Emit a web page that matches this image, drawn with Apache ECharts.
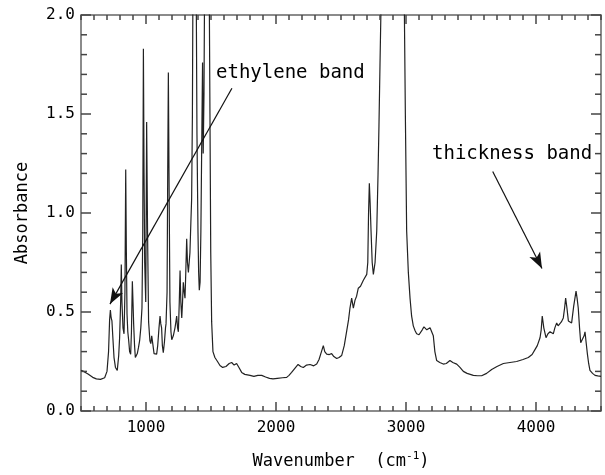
<!DOCTYPE html>
<html>
<head>
<meta charset="utf-8">
<script src="https://cdn.jsdelivr.net/npm/echarts@6/dist/echarts.min.js"></script>
<style>
html,body{margin:0;padding:0;background:#fff;}
#c{width:605px;height:475px;}
</style>
</head>
<body>
<div id="c"></div>
<script>
// Wavenumber (cm-1)
const wn = [500,520,554,590,618,650,682,700,712,720,726,732,738,746,754,765,779,790,797,805,810,815,823,831,838,844,849,854,860,867,874,882,888,895,900,905,912,918,925,933,942,951,960,969,975,980,985,990,998,1005,1012,1020,1030,1037,1044,1052,1062,1069,1076,1082,1090,1100,1108,1114,1120,1126,1133,1142,1150,1154,1162,1167,1172,1177,1184,1192,1198,1210,1223,1230,1236,1243,1249,1256,1262,1268,1275,1281,1287,1294,1300,1306,1313,1319,1326,1332,1338,1345,1351,1357,1362,1372,1385,1392,1400,1405,1410,1416,1422,1428,1435,1440,1446,1452,1470,1485,1492,1498,1505,1515,1530,1550,1569,1590,1615,1640,1659,1678,1697,1715,1736,1760,1800,1830,1860,1890,1920,1950,1977,2010,2050,2082,2100,2120,2145,2170,2190,2210,2235,2262,2290,2313,2331,2345,2364,2375,2390,2410,2428,2445,2467,2485,2505,2525,2544,2558,2569,2582,2595,2608,2620,2633,2650,2672,2685,2698,2706,2712,2718,2724,2731,2740,2749,2762,2775,2785,2792,2800,2808,2820,2850,2950,2987,2995,3005,3018,3031,3043,3056,3070,3082,3100,3108,3125,3138,3150,3160,3172,3185,3198,3210,3222,3236,3260,3287,3310,3338,3360,3390,3415,3441,3470,3518,3550,3582,3620,3659,3700,3749,3800,3851,3900,3941,3970,3992,4010,4031,4040,4048,4060,4077,4092,4108,4120,4133,4145,4159,4170,4179,4195,4210,4220,4228,4238,4249,4262,4274,4290,4308,4316,4325,4335,4344,4359,4370,4377,4385,4395,4405,4415,4435,4454,4475,4500];
// Absorbance
const absorb = [0.205,0.2,0.187,0.17,0.162,0.16,0.168,0.2,0.3,0.46,0.51,0.47,0.455,0.36,0.27,0.22,0.205,0.28,0.37,0.55,0.74,0.55,0.42,0.39,0.6,1.22,0.8,0.49,0.4,0.355,0.3,0.287,0.4,0.655,0.55,0.44,0.33,0.27,0.27,0.29,0.32,0.355,0.42,0.52,0.9,1.83,1.2,0.75,0.55,1.46,0.9,0.45,0.355,0.34,0.38,0.34,0.29,0.28,0.28,0.287,0.33,0.42,0.48,0.44,0.42,0.33,0.295,0.35,0.42,0.44,0.6,1.2,1.71,1.2,0.55,0.4,0.36,0.38,0.42,0.45,0.48,0.42,0.4,0.55,0.71,0.55,0.47,0.55,0.65,0.6,0.57,0.7,0.87,0.75,0.7,0.75,0.8,0.95,1.07,1.5,2.3,2.4,2.3,1.4,0.9,0.7,0.61,0.65,0.9,1.3,1.76,1.3,1.6,2.3,2.5,2.3,1.5,0.8,0.45,0.3,0.27,0.25,0.23,0.22,0.225,0.24,0.245,0.232,0.24,0.22,0.195,0.185,0.18,0.175,0.18,0.18,0.172,0.165,0.162,0.165,0.168,0.17,0.18,0.195,0.215,0.235,0.225,0.22,0.232,0.235,0.228,0.237,0.26,0.29,0.33,0.3,0.287,0.285,0.29,0.275,0.265,0.27,0.28,0.33,0.405,0.46,0.52,0.57,0.52,0.56,0.58,0.62,0.63,0.66,0.67,0.69,0.75,1.0,1.15,1.05,0.91,0.75,0.69,0.75,0.91,1.2,1.44,1.75,2.05,2.4,2.6,2.6,2.05,1.5,0.91,0.7,0.57,0.48,0.43,0.405,0.39,0.385,0.385,0.41,0.425,0.415,0.41,0.41,0.42,0.42,0.38,0.3,0.255,0.245,0.237,0.24,0.255,0.245,0.237,0.22,0.2,0.19,0.18,0.178,0.178,0.19,0.21,0.225,0.24,0.245,0.25,0.26,0.27,0.285,0.31,0.33,0.37,0.41,0.48,0.42,0.37,0.39,0.4,0.395,0.39,0.42,0.445,0.43,0.42,0.45,0.47,0.52,0.57,0.52,0.455,0.445,0.445,0.53,0.605,0.57,0.52,0.42,0.345,0.345,0.38,0.4,0.35,0.29,0.24,0.205,0.19,0.18,0.177,0.175];
// Axis tick labels
const xTickLabels = [1000, 2000, 3000, 4000];
const yTickLabels = [0, 0.5, 1.0, 1.5, 2.0];
// Annotations
const annoEthylene = { text: 'ethylene band', from: [1661, 1.63], to: [723, 0.54] };
const annoThickness = { text: 'thickness band', from: [3667, 1.21], to: [4046, 0.72] };

const FONT = "'DejaVu Sans Mono', monospace";
const X_MIN = 500, X_MAX = 4500, Y_MIN = 0, Y_MAX = 2;
const chart = echarts.init(document.getElementById('c'), null, { renderer: 'canvas' });
const seriesData = wn.map((w, i) => [w, absorb[i]]);

const xTicks = [];
for (let v = X_MIN; v <= X_MAX; v += 100) xTicks.push([v, xTickLabels.indexOf(v) >= 0 ? 1 : 0]);
const yTicks = [];
for (let k = 0; k <= 20; k++) yTicks.push([X_MIN, k / 10, k % 5 === 0 ? 1 : 0]);

const tickStyle = { stroke: '#444', lineWidth: 1.5, fill: null };
function xTickItem(params, api) {
  const p = api.coord([api.value(0), Y_MIN]);
  const top = api.coord([api.value(0), Y_MAX])[1];
  const len = api.value(1) ? 9 : 5;
  const x = p[0];
  return { type: 'group', children: [
    { type: 'line', shape: { x1: x, y1: p[1], x2: x, y2: p[1] - len }, style: tickStyle },
    { type: 'line', shape: { x1: x, y1: top, x2: x, y2: top + len }, style: tickStyle }
  ] };
}
function yTickItem(params, api) {
  const p = api.coord([X_MIN, api.value(1)]);
  const right = api.coord([X_MAX, api.value(1)])[0];
  const len = api.value(2) ? 10 : 6;
  const y = p[1];
  return { type: 'group', children: [
    { type: 'line', shape: { x1: p[0], y1: y, x2: p[0] + len, y2: y }, style: tickStyle },
    { type: 'line', shape: { x1: right, y1: y, x2: right - len, y2: y }, style: tickStyle }
  ] };
}

const option = {
  backgroundColor: '#fff',
  animation: false,
  grid: { left: 81, right: 4, top: 15, bottom: 61, show: true, borderColor: '#666', borderWidth: 1.5, backgroundColor: 'transparent' },
  xAxis: {
    type: 'value', min: X_MIN, max: X_MAX,
    axisLine: { show: false }, axisTick: { show: false }, splitLine: { show: false },
    axisLabel: { show: true, customValues: xTickLabels, margin: 9, color: '#000', fontFamily: FONT, fontSize: 16, formatter: v => String(v) },
    name: '{a|Wavenumber  (cm}{s|-1}{a|)}',
    nameLocation: 'middle', nameGap: 40,
    nameTextStyle: { rich: { a: { fontFamily: FONT, fontSize: 17, color: '#000' },
      s: { fontFamily: FONT, fontSize: 11, color: '#000', verticalAlign: 'top', padding: [0, 0, 10, 0] } } }
  },
  yAxis: {
    type: 'value', min: Y_MIN, max: Y_MAX, interval: 0.5,
    axisLine: { show: false }, axisTick: { show: false }, splitLine: { show: false },
    axisLabel: { show: true, margin: 6, color: '#000', fontFamily: FONT, fontSize: 16, formatter: v => v.toFixed(1) },
    name: 'Absorbance', nameLocation: 'middle', nameGap: 50, nameRotate: 90,
    nameTextStyle: { fontFamily: FONT, fontSize: 17, color: '#000' }
  },
  series: [{
    type: 'line',
    data: seriesData, showSymbol: false, symbol: 'none', clip: true,
    lineStyle: { color: '#222', width: 1.2 },
    markLine: {
      silent: true, symbol: ['none', 'arrow'], symbolSize: [9, 16],
      label: { show: false },
      lineStyle: { color: '#111', width: 1.2, type: 'solid' },
      data: [
        [{ coord: annoEthylene.from }, { coord: annoEthylene.to }],
        [{ coord: annoThickness.from }, { coord: annoThickness.to }]
      ]
    }
  }, {
    type: 'custom', data: xTicks, renderItem: xTickItem, clip: false, silent: true, z: 5,
    encode: { x: 0, y: 1 }
  }, {
    type: 'custom', data: yTicks, renderItem: yTickItem, clip: false, silent: true, z: 5,
    encode: { x: 0, y: 1 }
  }],
  graphic: [
    { type: 'text', left: 216, top: 64, style: { text: annoEthylene.text, font: "19px " + FONT, fill: '#000' } },
    { type: 'text', left: 432, top: 145, style: { text: annoThickness.text, font: "19px " + FONT, fill: '#000' } }
  ]
};
chart.setOption(option);
</script>
</body>
</html>
